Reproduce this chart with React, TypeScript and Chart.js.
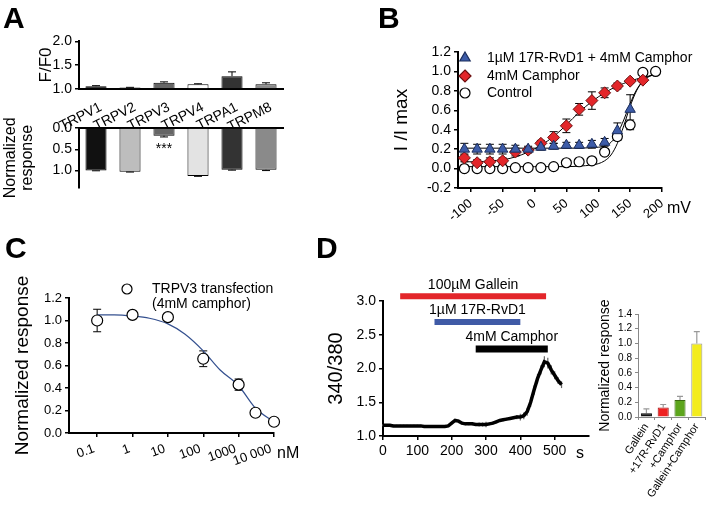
import React, { useEffect, useRef } from 'react';
import { Chart, registerables } from 'chart.js';

Chart.register(...registerables);
const FONT = "'Liberation Sans', Arial, Helvetica, sans-serif";
Chart.defaults.font.family = FONT;
Chart.defaults.color = '#000';

// ---------- Panel A ----------
const channels = ['TRPV1', 'TRPV2', 'TRPV3', 'TRPV4', 'TRPA1', 'TRPM8'];
const ffoValues = [1.06, 1.03, 1.13, 1.1, 1.27, 1.1];
const ffoErrors = [0.01, 0.005, 0.02, 0.01, 0.09, 0.03];
const normValues = [1.0, 1.03, 0.18, 1.13, 0.98, 0.98];
const normErrors = [0.005, 0.005, 0.03, 0.005, 0.01, 0.02];
const aTopTicks = [1.0, 1.5, 2.0];
const aBottomTicks = [0.0, 0.5, 1.0];

// ---------- Panel B ----------
const rvd1Voltages = [-110, -90, -70, -50, -30, -10, 10, 30, 50, 70, 90, 110, 130, 150];
const rvd1Values = [0.2, 0.2, 0.2, 0.2, 0.2, 0.2, 0.22, 0.23, 0.24, 0.24, 0.25, 0.27, 0.39, 0.61];
const rvd1Errors = [0.06, 0.05, 0.05, 0.05, 0.04, 0.03, 0.03, 0.03, 0.03, 0.03, 0.04, 0.04, 0.08, 0.15];
const camphorVoltages = [-110, -90, -70, -50, -30, -10, 10, 30, 50, 70, 90, 110, 130, 150, 170];
const camphorValues = [0.11, 0.06, 0.07, 0.08, 0.17, 0.19, 0.26, 0.32, 0.44, 0.61, 0.7, 0.78, 0.85, 0.9, 0.91];
const camphorErrors = [0.04, 0.03, 0.04, 0.03, 0.04, 0.03, 0.03, 0.06, 0.07, 0.06, 0.09, 0.05, 0.03, 0.02, 0.02];
const controlVoltages = [-110, -90, -70, -50, -30, -10, 10, 30, 50, 70, 90, 110, 130, 150, 170, 190];
const controlValues = [0.0, 0.0, 0.0, 0.0, 0.01, 0.01, 0.01, 0.02, 0.06, 0.07, 0.08, 0.17, 0.33, 0.45, 0.99, 1.0];
const controlErrors = [0.01, 0.01, 0.01, 0.01, 0.01, 0.01, 0.01, 0.01, 0.01, 0.01, 0.01, 0.03, 0.04, 0.05, 0.01, 0.01];
const fitControlX = [-115, -50, 0, 50, 80, 100, 110, 120, 130, 140, 150, 160, 170, 180, 195];
const fitControlY = [0.02, 0.02, 0.02, 0.02, 0.03, 0.05, 0.08, 0.14, 0.26, 0.44, 0.64, 0.8, 0.9, 0.95, 0.98];
const fitRvd1X = [-115, -50, 0, 50, 100, 110, 120, 130, 140, 150, 160, 170, 180, 195];
const fitRvd1Y = [0.21, 0.21, 0.21, 0.21, 0.22, 0.23, 0.27, 0.36, 0.5, 0.67, 0.81, 0.9, 0.95, 0.98];
const fitCamphorX = [-115, -90, -70, -50, -30, -10, 10, 30, 50, 70, 90, 110, 130, 150, 170, 195];
const fitCamphorY = [0.07, 0.07, 0.08, 0.09, 0.12, 0.17, 0.24, 0.33, 0.45, 0.58, 0.69, 0.78, 0.85, 0.9, 0.94, 0.97];
const bLegend = ['1µM 17R-RvD1 + 4mM Camphor', '4mM Camphor', 'Control'];

// ---------- Panel C ----------
const doses = [0.1, 1, 10, 100, 1000, 3000, 10000];
const doseValues = [1.0, 1.05, 1.03, 0.66, 0.43, 0.18, 0.1];
const doseErrors = [0.1, 0.01, 0.0, 0.07, 0.05, 0.03, 0.01];
const doseFitX = [0.1, 0.3, 1, 3, 10, 30, 100, 300, 1000, 3000, 10000];
const doseFitY = [1.05, 1.05, 1.04, 1.02, 0.97, 0.88, 0.73, 0.56, 0.42, 0.22, 0.1];
const doseTicks = [0.1, 1, 10, 100, 1000, 10000];
const doseTickLabels = ['0.1', '1', '10', '100', '1000', '10 000'];
const cLegend = ['TRPV3 transfection', '(4mM camphor)'];

// ---------- Panel D ----------
const times = [0, 10, 20, 30, 40, 50, 60, 70, 80, 90, 100, 110, 120, 130, 140, 150, 160, 170, 180, 190, 200, 210, 220, 230, 240, 250, 260, 270, 280, 290, 300, 310, 320, 330, 340, 350, 360, 370, 380, 390, 400, 410, 420, 430, 440, 450, 460, 470, 480, 490, 500, 510, 520];
const ratios = [1.16, 1.16, 1.16, 1.15, 1.15, 1.15, 1.15, 1.15, 1.15, 1.15, 1.15, 1.15, 1.14, 1.14, 1.14, 1.14, 1.14, 1.14, 1.14, 1.15, 1.19, 1.23, 1.22, 1.19, 1.18, 1.18, 1.18, 1.17, 1.17, 1.17, 1.17, 1.18, 1.19, 1.21, 1.23, 1.24, 1.25, 1.26, 1.27, 1.28, 1.28, 1.3, 1.36, 1.5, 1.68, 1.85, 1.98, 2.1, 2.08, 1.98, 1.9, 1.82, 1.76];
const ratioErrors = [0.015, 0.015, 0.015, 0.015, 0.015, 0.015, 0.015, 0.015, 0.015, 0.015, 0.015, 0.015, 0.015, 0.015, 0.015, 0.015, 0.015, 0.015, 0.015, 0.015, 0.02, 0.02, 0.02, 0.02, 0.02, 0.02, 0.02, 0.02, 0.03, 0.03, 0.04, 0.02, 0.02, 0.02, 0.02, 0.02, 0.02, 0.02, 0.02, 0.03, 0.05, 0.05, 0.06, 0.07, 0.07, 0.07, 0.07, 0.08, 0.08, 0.07, 0.06, 0.05, 0.05];
const treatments = ['100µM Gallein', '1µM 17R-RvD1', '4mM Camphor'];
const treatmentStart = [50, 150, 270];
const treatmentEnd = [475, 400, 480];
const treatmentLevel = [3.07, 2.69, 2.29];
const treatmentColors = ['#e3262a', '#3f5aa6', '#000000'];
const summaryLabels = ['Gallein', '+17R-RvD1', '+Camphor', 'Gallein+Camphor'];
const summaryValues = [0.05, 0.13, 0.23, 1.0];
const summaryErrors = [0.06, 0.04, 0.05, 0.16];
const summaryColors = ['#111111', '#ee2020', '#5ca51c', '#f3ec1e'];

// ---------- plugins ----------
const errorBarPlugin = {
  id: 'whiskers',
  beforeDatasetsDraw(chart: any) {
    const ctx = chart.ctx;
    chart.data.datasets.forEach((ds: any, i: number) => {
      const eb = ds.whisk;
      if (!eb) return;
      const meta = chart.getDatasetMeta(i);
      const yScale = chart.scales[meta.yAxisID];
      ctx.save();
      ctx.strokeStyle = eb.color;
      ctx.lineWidth = eb.width;
      meta.data.forEach((el: any, j: number) => {
        const raw = ds.data[j];
        const v = typeof raw === 'number' ? raw : raw.y;
        const e = eb.values[j];
        if (!e) return;
        const x = el.x;
        const yHi = yScale.getPixelForValue(v + e);
        const yLo = yScale.getPixelForValue(eb.dir === 'both' ? v - e : v);
        ctx.beginPath();
        ctx.moveTo(x, yLo);
        ctx.lineTo(x, yHi);
        if (eb.cap) {
          ctx.moveTo(x - eb.cap, yHi);
          ctx.lineTo(x + eb.cap, yHi);
          if (eb.dir === 'both') {
            ctx.moveTo(x - eb.cap, yLo);
            ctx.lineTo(x + eb.cap, yLo);
          }
        }
        ctx.stroke();
      });
      ctx.restore();
    });
  },
};

const textPlugin = {
  id: 'dataTexts',
  afterDraw(chart: any, _args: any, opts: any) {
    const items = (opts && opts.items) || [];
    const ctx = chart.ctx;
    items.forEach((it: any) => {
      const x = chart.scales.x.getPixelForValue(it.x);
      const y = chart.scales.y.getPixelForValue(it.y);
      ctx.save();
      ctx.font = `${it.size || 14}px ${FONT}`;
      ctx.fillStyle = '#000';
      ctx.textAlign = 'center';
      ctx.textBaseline = 'middle';
      ctx.fillText(it.text, x, y);
      ctx.restore();
    });
  },
};

function drawMarker(ctx: any, kind: string, x: number, y: number, fill: string, stroke: string) {
  ctx.save();
  ctx.fillStyle = fill;
  ctx.strokeStyle = stroke;
  ctx.lineWidth = 1.2;
  ctx.beginPath();
  if (kind === 'triangle') {
    ctx.moveTo(x, y - 6);
    ctx.lineTo(x + 5.2, y + 3);
    ctx.lineTo(x - 5.2, y + 3);
    ctx.closePath();
  } else if (kind === 'diamond') {
    ctx.moveTo(x, y - 6);
    ctx.lineTo(x + 6, y);
    ctx.lineTo(x, y + 6);
    ctx.lineTo(x - 6, y);
    ctx.closePath();
  } else {
    ctx.arc(x, y, 5, 0, Math.PI * 2);
  }
  ctx.fill();
  ctx.stroke();
  ctx.restore();
}

const legendPlugin = {
  id: 'placedLegend',
  afterDraw(chart: any, _args: any, opts: any) {
    const items = (opts && opts.items) || [];
    const ctx = chart.ctx;
    const { left, top } = chart.chartArea;
    items.forEach((it: any) => {
      drawMarker(ctx, it.marker, left + it.mx, top + it.my, it.fill, it.stroke);
      ctx.save();
      ctx.font = `14px ${FONT}`;
      ctx.fillStyle = '#000';
      ctx.textAlign = 'left';
      ctx.textBaseline = 'middle';
      const lines = Array.isArray(it.text) ? it.text : [it.text];
      lines.forEach((t: string, k: number) => ctx.fillText(t, left + it.tx, top + it.my + k * 15));
      ctx.restore();
    });
  },
};

// ---------- shared styles ----------
const axisBorder = () => ({ display: true, color: '#000', width: 2 });
const tickGrid = () => ({ display: true, drawOnChartArea: false, drawTicks: true, tickLength: 4, color: '#000', lineWidth: 1.5 });
const noGrid = () => ({ display: false, drawTicks: false });
const fmt1 = (v: any) => (Math.abs(Number(v)) < 1e-9 ? '0.0' : Number(v).toFixed(1));
const fixTicks = (vals: number[]) => (s: any) => {
  s.ticks = vals.map((v) => ({ value: v }));
};
const base = { responsive: false, animation: false as const };

// ---------- configs ----------
const configATop = () => ({
  type: 'bar',
  data: {
    labels: channels,
    datasets: [
      {
        data: ffoValues,
        base: 1,
        backgroundColor: ['#111111', '#b5b5b5', '#666666', '#ffffff', '#333333', '#8a8a8a'],
        borderColor: '#000',
        borderWidth: 1,
        barPercentage: 0.62,
        categoryPercentage: 1,
        whisk: { values: ffoErrors, dir: 'up', cap: 4, color: '#000', width: 1 },
      },
    ],
  },
  options: {
    ...base,
    layout: { padding: { top: 10, right: 7, left: 0, bottom: 0 } },
    plugins: { legend: { display: false }, tooltip: { enabled: false } },
    scales: {
      x: {
        grid: noGrid(),
        border: axisBorder(),
        ticks: { font: { size: 14 }, minRotation: 27, maxRotation: 27, autoSkip: false, padding: 10, labelOffset: 5 },
        afterFit: (s: any) => { s.height = 40; },
      },
      y: {
        type: 'linear',
        min: 1,
        max: 2,
        afterBuildTicks: fixTicks(aTopTicks),
        ticks: { font: { size: 14 }, padding: 3, autoSkip: false, callback: fmt1 },
        grid: tickGrid(),
        border: axisBorder(),
        title: { display: false },
        afterFit: (s: any) => { s.width = 79; },
      },
    },
  },
  plugins: [errorBarPlugin],
});

const configABottom = () => ({
  type: 'bar',
  data: {
    labels: channels,
    datasets: [
      {
        data: normValues,
        backgroundColor: ['#111111', '#bdbdbd', '#666666', '#e3e3e3', '#333333', '#8a8a8a'],
        borderColor: '#000',
        borderWidth: 1,
        barPercentage: 0.62,
        categoryPercentage: 1,
        whisk: { values: normErrors, dir: 'up', cap: 4, color: '#000', width: 1 },
      },
    ],
  },
  options: {
    ...base,
    layout: { padding: { top: 28, right: 7, left: 0, bottom: 2 } },
    plugins: {
      legend: { display: false },
      tooltip: { enabled: false },
      dataTexts: { items: [{ text: '***', x: 2, y: 0.5, size: 14 }] },
    },
    scales: {
      x: {
        position: 'top',
        grid: noGrid(),
        border: axisBorder(),
        ticks: { display: false },
        afterFit: (s: any) => { s.height = 0; },
      },
      y: {
        reverse: true,
        min: 0,
        max: 1.4,
        afterBuildTicks: fixTicks(aBottomTicks),
        ticks: { font: { size: 14 }, padding: 3, autoSkip: false, callback: fmt1 },
        grid: tickGrid(),
        border: axisBorder(),
        title: {
          display: true,
          text: ['Normalized', 'response'],
          font: { size: 16, lineHeight: 1.05 },
          padding: { top: 2, bottom: 0 },
        },
        afterFit: (s: any) => { s.width = 79; },
      },
    },
  },
  plugins: [errorBarPlugin, textPlugin],
});

const pts = (xs: number[], ys: number[]) => xs.map((x, i) => ({ x, y: ys[i] }));

const configB = () => ({
  type: 'scatter',
  data: {
    datasets: [
      {
        label: bLegend[0],
        data: pts(rvd1Voltages, rvd1Values),
        pointStyle: 'triangle',
        pointRadius: 6,
        backgroundColor: '#3d5ca8',
        borderColor: '#1b2d5c',
        borderWidth: 1,
        order: 0,
        clip: false,
        whisk: { values: rvd1Errors, dir: 'both', cap: 4, color: '#000', width: 1 },
      },
      {
        label: bLegend[1],
        data: pts(camphorVoltages, camphorValues),
        pointStyle: 'rectRot',
        pointRadius: 6,
        backgroundColor: '#e3262a',
        borderColor: '#6e1010',
        borderWidth: 1,
        order: 1,
        clip: false,
        whisk: { values: camphorErrors, dir: 'both', cap: 4, color: '#000', width: 1 },
      },
      {
        label: bLegend[2],
        data: pts(controlVoltages, controlValues),
        pointStyle: 'circle',
        pointRadius: 5,
        backgroundColor: '#fff',
        borderColor: '#000',
        borderWidth: 1.2,
        order: 2,
        clip: false,
        whisk: { values: controlErrors, dir: 'both', cap: 4, color: '#000', width: 1 },
      },
      ...[
        [fitControlX, fitControlY],
        [fitRvd1X, fitRvd1Y],
        [fitCamphorX, fitCamphorY],
      ].map(([xs, ys]) => ({
        data: pts(xs, ys),
        showLine: true,
        pointRadius: 0,
        borderColor: '#000',
        borderWidth: 1,
        cubicInterpolationMode: 'monotone',
        order: 3,
      })),
    ],
  },
  options: {
    ...base,
    layout: { padding: { top: 22, right: 47, left: 0, bottom: 0 } },
    plugins: {
      legend: { display: false },
      tooltip: { enabled: false },
      placedLegend: {
        items: [
          { marker: 'triangle', fill: '#3d5ca8', stroke: '#1b2d5c', text: bLegend[0], mx: 7, my: 6, tx: 29 },
          { marker: 'diamond', fill: '#e3262a', stroke: '#6e1010', text: bLegend[1], mx: 7, my: 24, tx: 29 },
          { marker: 'circle', fill: '#fff', stroke: '#000', text: bLegend[2], mx: 7, my: 41, tx: 29 },
        ],
      },
    },
    scales: {
      x: {
        type: 'linear',
        min: -120,
        max: 200,
        afterBuildTicks: fixTicks([-100, -50, 0, 50, 100, 150, 200]),
        ticks: { font: { size: 13 }, minRotation: 40, maxRotation: 40, autoSkip: false, padding: 4 },
        grid: tickGrid(),
        border: axisBorder(),
        afterFit: (s: any) => { s.height = 40; },
      },
      y: {
        min: -0.2,
        max: 1.2,
        afterBuildTicks: fixTicks([-0.2, 0, 0.2, 0.4, 0.6, 0.8, 1.0, 1.2]),
        ticks: { font: { size: 14 }, padding: 3, autoSkip: false, callback: fmt1 },
        grid: tickGrid(),
        border: axisBorder(),
        title: { display: true, text: 'I /I max', font: { size: 19 }, padding: { top: 60, bottom: 0 } },
        afterFit: (s: any) => { s.width = 128; },
      },
    },
  },
  plugins: [errorBarPlugin, legendPlugin],
});

const configC = () => ({
  type: 'scatter',
  data: {
    datasets: [
      {
        data: pts(doses, doseValues),
        pointStyle: 'circle',
        pointRadius: 5.5,
        backgroundColor: '#fff',
        borderColor: '#000',
        borderWidth: 1.2,
        order: 0,
        clip: false,
        whisk: { values: doseErrors, dir: 'both', cap: 4, color: '#000', width: 1 },
      },
      {
        data: pts(doseFitX, doseFitY),
        showLine: true,
        pointRadius: 0,
        borderColor: '#34508f',
        borderWidth: 1.2,
        cubicInterpolationMode: 'monotone',
        order: 1,
      },
    ],
  },
  options: {
    ...base,
    layout: { padding: { top: 38, right: 26, left: 0, bottom: 0 } },
    plugins: {
      legend: { display: false },
      tooltip: { enabled: false },
      placedLegend: {
        items: [{ marker: 'circle', fill: '#fff', stroke: '#000', text: cLegend, mx: 58, my: -9, tx: 83 }],
      },
    },
    scales: {
      x: {
        type: 'logarithmic',
        min: 0.016,
        max: 10000,
        afterBuildTicks: fixTicks(doseTicks),
        ticks: {
          font: { size: 13 },
          minRotation: 20,
          maxRotation: 20,
          autoSkip: false,
          padding: 4,
          labelOffset: -3,
          callback: (v: any) => doseTickLabels[doseTicks.indexOf(Number(v))] ?? '',
        },
        grid: tickGrid(),
        border: axisBorder(),
        afterFit: (s: any) => { s.height = 40; },
      },
      y: {
        min: 0,
        max: 1.2,
        afterBuildTicks: fixTicks([0, 0.2, 0.4, 0.6, 0.8, 1.0, 1.2]),
        ticks: { font: { size: 13 }, padding: 3, autoSkip: false, callback: fmt1 },
        grid: tickGrid(),
        border: axisBorder(),
        title: { display: true, text: 'Normalized response', font: { size: 19 }, padding: { top: 11, bottom: 0 } },
        afterFit: (s: any) => { s.width = 69; },
      },
    },
  },
  plugins: [errorBarPlugin, legendPlugin],
});

const configDTrace = () => ({
  type: 'scatter',
  data: {
    datasets: [
      ...treatments.map((_, i) => ({
        data: [
          { x: treatmentStart[i], y: treatmentLevel[i] },
          { x: treatmentEnd[i], y: treatmentLevel[i] },
        ],
        showLine: true,
        pointRadius: 0,
        borderColor: treatmentColors[i],
        borderWidth: i === 2 ? 7 : 6,
        borderCapStyle: 'butt',
        clip: false,
        order: 1,
      })),
      {
        data: pts(times, ratios),
        showLine: true,
        pointRadius: 0,
        borderColor: '#000',
        borderWidth: 3.5,
        order: 0,
        whisk: { values: ratioErrors, dir: 'both', cap: 0, color: '#666', width: 1.2 },
      },
    ],
  },
  options: {
    ...base,
    layout: { padding: { top: 41, right: 11, left: 0, bottom: 0 } },
    plugins: {
      legend: { display: false },
      tooltip: { enabled: false },
      dataTexts: {
        items: treatments.map((t, i) => ({
          text: t,
          x: (treatmentStart[i] + treatmentEnd[i]) / 2,
          y: treatmentLevel[i] + 0.17,
          size: 14,
        })),
      },
    },
    scales: {
      x: {
        type: 'linear',
        min: 0,
        max: 600,
        afterBuildTicks: fixTicks([0, 100, 200, 300, 400, 500]),
        ticks: { font: { size: 14 }, maxRotation: 0, autoSkip: false, padding: 3 },
        grid: tickGrid(),
        border: axisBorder(),
        afterFit: (s: any) => { s.height = 30; },
      },
      y: {
        min: 1,
        max: 3,
        afterBuildTicks: fixTicks([1, 1.5, 2, 2.5, 3]),
        ticks: { font: { size: 14 }, padding: 3, autoSkip: false, callback: fmt1 },
        grid: tickGrid(),
        border: axisBorder(),
        title: { display: true, text: '340/380', font: { size: 20 }, padding: { top: 4, bottom: 0 } },
        afterFit: (s: any) => { s.width = 63; },
      },
    },
  },
  plugins: [errorBarPlugin, textPlugin],
});

const configDBar = () => ({
  type: 'bar',
  data: {
    labels: summaryLabels,
    datasets: [
      {
        data: summaryValues,
        backgroundColor: summaryColors,
        borderColor: ['#000', '#a01010', '#3a6a10', '#999'],
        borderWidth: 1,
        barPercentage: 0.66,
        categoryPercentage: 1,
        whisk: { values: summaryErrors, dir: 'up', cap: 3, color: '#999', width: 1.2 },
      },
    ],
  },
  options: {
    ...base,
    layout: { padding: { top: 14, right: 1, left: 0, bottom: 0 } },
    plugins: { legend: { display: false }, tooltip: { enabled: false } },
    scales: {
      x: {
        grid: { display: true, drawOnChartArea: false, drawTicks: true, tickLength: 3, color: '#888', lineWidth: 1 },
        border: { display: true, color: '#888', width: 1 },
        ticks: { font: { size: 11 }, minRotation: 57, maxRotation: 57, autoSkip: false, padding: 1 },
        afterFit: (s: any) => { s.height = 89; },
      },
      y: {
        min: 0,
        max: 1.4,
        afterBuildTicks: fixTicks([0, 0.2, 0.4, 0.6, 0.8, 1.0, 1.2, 1.4]),
        ticks: { font: { size: 10 }, padding: 3, autoSkip: false, callback: fmt1 },
        grid: { display: true, drawOnChartArea: false, drawTicks: true, tickLength: 3, color: '#888', lineWidth: 1 },
        border: { display: true, color: '#888', width: 1 },
        title: { display: true, text: 'Normalized response', font: { size: 14 }, padding: { top: 7, bottom: 0 } },
        afterFit: (s: any) => { s.width = 48; },
      },
    },
  },
  plugins: [errorBarPlugin],
});

function ChartBox(props: { left: number; top: number; width: number; height: number; config: () => any }) {
  const ref = useRef<HTMLCanvasElement>(null);
  useEffect(() => {
    const chart = new Chart(ref.current as HTMLCanvasElement, props.config());
    return () => chart.destroy();
  }, []);
  const { left, top, width, height } = props;
  return (
    <canvas
      ref={ref}
      width={width}
      height={height}
      style={{ position: 'absolute', left, top, width, height }}
    />
  );
}

function Label(props: { text: string; left: number; top: number; size: number; bold?: boolean; rotate?: boolean }) {
  return (
    <div
      style={{
        position: 'absolute',
        left: props.left,
        top: props.top,
        fontFamily: FONT,
        fontSize: props.size,
        lineHeight: 1,
        fontWeight: props.bold ? 'bold' : 'normal',
        whiteSpace: 'nowrap',
        color: '#000',
        transform: props.rotate ? 'translate(-50%, -50%) rotate(-90deg)' : undefined,
      }}
    >
      {props.text}
    </div>
  );
}

export default function App() {
  return (
    <div style={{ position: 'fixed', left: 0, top: 0, width: 709, height: 506, background: '#fff', overflow: 'hidden' }}>
      <ChartBox left={0} top={100} width={290} height={99} config={configABottom} />
      <ChartBox left={0} top={30} width={290} height={99} config={configATop} />
      <ChartBox left={330} top={30} width={379} height={198} config={configB} />
      <ChartBox left={0} top={260} width={300} height={213} config={configC} />
      <ChartBox left={320} top={260} width={280} height={206} config={configDTrace} />
      <ChartBox left={590} top={300} width={119} height={206} config={configDBar} />
      <Label text="F/F0" left={45} top={65} size={17} rotate />
      <Label text="A" left={3} top={3} size={30} bold />
      <Label text="B" left={378} top={3} size={30} bold />
      <Label text="C" left={5} top={233} size={30} bold />
      <Label text="D" left={316} top={233} size={30} bold />
      <Label text="mV" left={667} top={200} size={16} />
      <Label text="nM" left={277} top={445} size={16} />
      <Label text="s" left={576} top={445} size={16} />
    </div>
  );
}
